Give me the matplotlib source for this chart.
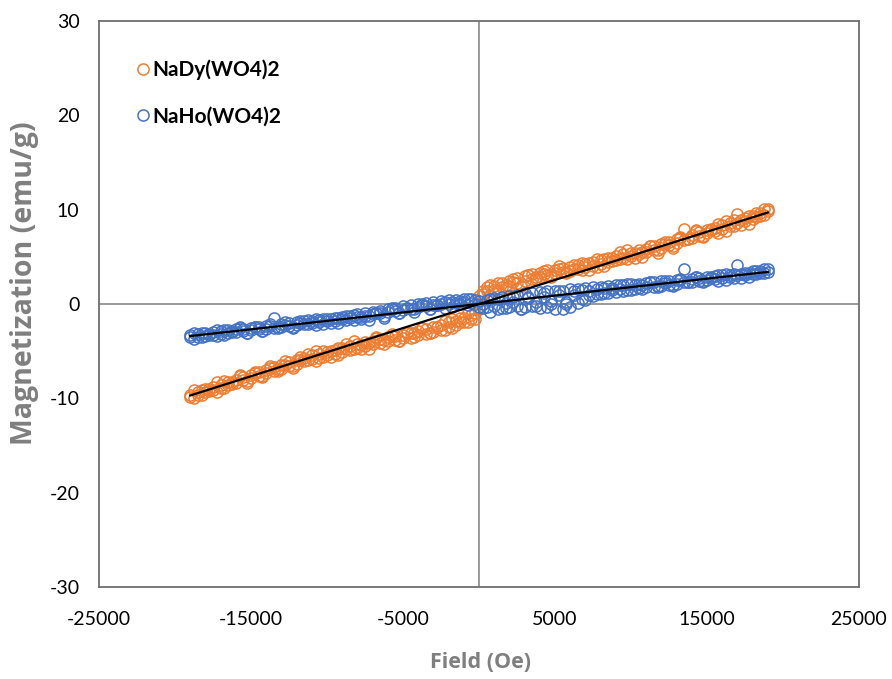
import matplotlib
matplotlib.use("Agg")
import matplotlib.pyplot as plt

# ---------------- data ----------------
# grid A of field values (Oe)
field_a = [-19000, -18500, -18000, -17500, -17000, -16500, -16000, -15500, -15000, -14500,
           -14000, -13500, -13000, -12500, -12000, -11500, -11000, -10500, -10000, -9500,
           -9000, -8500, -8000, -7500, -7000, -6500, -6000, -5500, -5000, -4500,
           -4000, -3500, -3000, -2500, -2000, -1500, -1000, -500, 0, 500,
           1000, 1500, 2000, 2500, 3000, 3500, 4000, 4500, 5000, 5500,
           6000, 6500, 7000, 7500, 8000, 8500, 9000, 9500, 10000, 10500,
           11000, 11500, 12000, 12500, 13000, 13500, 14000, 14500, 15000, 15500,
           16000, 16500, 17000, 17500, 18000, 18500, 19000]
# grid B of field values (Oe)
field_b = [-18750, -18250, -17750, -17250, -16750, -16250, -15750, -15250, -14750, -14250,
           -13750, -13250, -12750, -12250, -11750, -11250, -10750, -10250, -9750, -9250,
           -8750, -8250, -7750, -7250, -6750, -6250, -5750, -5250, -4750, -4250,
           -3750, -3250, -2750, -2250, -1750, -1250, -750, -250, 250, 750,
           1250, 1750, 2250, 2750, 3250, 3750, 4250, 4750, 5250, 5750,
           6250, 6750, 7250, 7750, 8250, 8750, 9250, 9750, 10250, 10750,
           11250, 11750, 12250, 12750, 13250, 13750, 14250, 14750, 15250, 15750,
           16250, 16750, 17250, 17750, 18250, 18750]

# NaDy(WO4)2 magnetization (emu/g)
dy_a1 = [-9.85, -9.30, -9.35, -8.80, -8.90, -8.30, -8.35, -7.75, -7.85, -7.25,
         -7.35, -6.70, -6.85, -6.20, -6.35, -5.70, -5.85, -5.30, -5.45, -4.90,
         -5.05, -4.50, -4.65, -4.05, -4.25, -3.75, -3.95, -3.40, -3.65, -3.05,
         -3.30, -2.70, -2.95, -2.25, -2.45, -1.75, -1.90, -1.20, -0.50, 1.75,
         1.45, 2.20, 1.95, 2.75, 2.40, 3.20, 2.85, 3.60, 3.25, 3.85,
         3.55, 4.10, 3.90, 4.45, 4.25, 4.85, 4.70, 5.25, 5.10, 5.70,
         5.50, 6.10, 5.95, 6.60, 6.50, 7.95, 7.35, 7.25, 7.85, 7.75,
         8.35, 8.30, 9.55, 9.10, 9.05, 9.60, 9.90]
dy_a2 = [-9.60, -9.62, -9.05, -9.10, -8.55, -8.60, -8.02, -8.10, -7.50, -7.60,
         -7.00, -7.05, -6.50, -6.55, -5.95, -6.05, -5.45, -5.70, -5.05, -5.25,
         -4.70, -4.85, -4.25, -4.45, -3.90, -4.10, -3.55, -3.85, -3.25, -3.60,
         -2.85, -3.20, -2.40, -2.75, -1.95, -2.20, -1.45, -1.55, 0.80, 1.35,
         1.90, 1.75, 2.45, 2.25, 2.95, 2.70, 3.30, 3.05, 3.65, 3.40,
         3.95, 3.75, 4.25, 4.05, 4.65, 4.50, 5.05, 4.90, 5.45, 5.35,
         5.85, 5.75, 6.35, 6.25, 6.85, 6.75, 7.00, 7.60, 7.50, 8.10,
         8.00, 8.60, 8.55, 8.80, 9.35, 9.30, 10.10]
dy_b1 = [-9.13, -9.63, -8.97, -9.36, -8.21, -8.45, -7.50, -8.19, -7.34, -7.78,
         -6.58, -7.07, -6.42, -6.81, -5.65, -5.90, -4.94, -5.64, -4.98, -5.43,
         -4.22, -4.72, -4.36, -4.75, -3.60, -3.84, -3.19, -3.88, -3.03, -3.47,
         -2.57, -3.06, -2.41, -2.80, -1.64, -1.89, -0.93, -1.63, 1.43, 0.98,
         2.19, 1.69, 2.35, 1.96, 3.11, 2.87, 3.52, 2.83, 3.68, 3.24,
         4.14, 3.65, 4.30, 3.91, 4.77, 4.52, 5.48, 4.78, 5.44, 4.99,
         6.20, 5.70, 6.36, 5.97, 7.12, 6.88, 7.83, 7.14, 7.99, 7.55,
         8.75, 8.26, 8.91, 8.52, 9.68, 9.43]
dy_b2 = [-9.98, -9.08, -9.22, -8.31, -8.91, -8.25, -7.65, -8.34, -7.24, -7.68,
         -6.78, -6.92, -6.02, -6.61, -5.95, -5.35, -6.04, -4.94, -5.58, -4.68,
         -4.82, -3.92, -4.81, -4.15, -3.55, -4.24, -3.44, -3.88, -2.98, -3.12,
         -2.52, -3.11, -2.46, -1.85, -2.54, -1.44, -1.88, -0.98, 1.08, 1.98,
         1.39, 2.04, 2.65, 1.96, 3.06, 2.62, 3.22, 3.08, 3.98, 3.39,
         3.74, 4.35, 3.65, 4.76, 4.02, 4.92, 4.78, 5.68, 4.89, 5.54,
         6.15, 5.45, 6.56, 6.12, 7.02, 6.88, 7.78, 7.19, 7.84, 8.45,
         7.75, 8.86, 8.41, 9.32, 9.18, 10.08]

# NaHo(WO4)2 magnetization (emu/g)
ho_a1 = [-3.55, -3.20, -3.35, -3.00, -3.15, -2.80, -2.95, -2.65, -2.80, -2.45,
         -2.60, -1.50, -2.40, -2.05, -2.25, -1.85, -2.05, -1.70, -1.85, -1.50,
         -1.60, -1.25, -1.35, -1.00, -1.10, -0.75, -0.85, -0.45, -0.60, -0.15,
         -0.35, 0.10, -0.15, 0.30, 0.05, 0.45, 0.20, 0.50, 0.30, 0.45,
         -0.20, 0.75, -0.30, 1.00, -0.35, 1.20, -0.40, 1.35, -0.55, 1.40,
         -0.30, 1.60, 0.45, 1.75, 1.05, 1.95, 1.30, 2.05, 1.50, 2.15,
         1.75, 2.30, 1.95, 2.45, 2.10, 3.70, 2.35, 2.80, 2.55, 2.95,
         2.75, 3.10, 4.10, 3.30, 3.15, 3.55, 3.40]
ho_a2 = [-3.30, -3.45, -3.10, -3.25, -2.90, -3.05, -2.70, -2.90, -2.55, -2.70,
         -2.35, -2.50, -2.15, -2.35, -1.95, -2.15, -1.75, -1.95, -1.55, -1.75,
         -1.35, -1.50, -1.10, -1.25, -0.80, -1.00, -0.50, -0.75, -0.20, -0.50,
         0.05, -0.25, 0.25, -0.05, 0.40, 0.15, 0.50, 0.15, -0.30, -0.35,
         0.60, -0.40, 0.85, -0.25, 1.15, -0.20, 1.30, -0.30, 1.40, -0.50,
         1.55, 0.10, 1.70, 0.80, 1.85, 1.20, 2.00, 1.40, 2.10, 1.65,
         2.25, 1.85, 2.40, 2.05, 2.55, 2.30, 2.70, 2.45, 2.90, 2.65,
         3.05, 2.85, 3.10, 3.05, 3.45, 3.30, 3.75]
ho_b1 = [-3.06, -3.47, -3.13, -3.44, -2.75, -3.01, -2.47, -3.03, -2.49, -2.90,
         -2.16, -2.57, -2.23, -2.54, -1.85, -2.11, -1.57, -2.13, -1.60, -2.01,
         -1.27, -1.68, -1.34, -1.65, -0.96, -1.22, -0.38, -0.94, -0.40, -0.81,
         -0.07, -0.48, -0.14, -0.45, 0.24, -0.02, 0.52, -0.04, 0.04, -0.87,
         0.52, -0.39, 0.20, -0.51, 0.78, 0.17, 1.16, -0.05, 0.94, 0.03,
         1.42, 0.51, 1.35, 1.04, 1.73, 1.47, 2.01, 1.45, 1.98, 1.57,
         2.31, 1.90, 2.24, 1.93, 2.62, 2.36, 2.90, 2.34, 2.88, 2.47,
         3.21, 2.80, 3.14, 2.83, 3.52, 3.26]
ho_b2 = [-3.66, -3.12, -3.28, -2.74, -3.25, -2.86, -2.52, -3.08, -2.44, -2.85,
         -2.31, -2.47, -1.93, -2.44, -2.05, -1.71, -2.27, -1.63, -2.05, -1.51,
         -1.67, -1.13, -1.64, -1.25, -0.91, -1.47, -0.53, -0.94, -0.40, -0.56,
         -0.02, -0.53, -0.14, 0.20, -0.36, 0.28, -0.13, 0.41, -0.46, 0.53,
         -0.58, 0.11, 0.70, -0.51, 0.68, -0.23, 0.76, 0.35, 1.34, 0.23,
         0.92, 1.51, 0.95, 1.59, 1.18, 1.72, 1.56, 2.10, 1.58, 1.97,
         2.31, 1.75, 2.39, 1.98, 2.52, 2.36, 2.90, 2.39, 2.78, 3.12,
         2.56, 3.20, 2.79, 3.33, 3.17, 3.71]

# linear fits (trendlines)
fit_field = [-19000, 19000]
dy_fit = [-9.7, 9.7]
ho_fit = [-3.4, 3.4]

series_names = ["NaDy(WO4)2", "NaHo(WO4)2"]
x_ticks = [-25000, -15000, -5000, 5000, 15000, 25000]
y_ticks = [-30, -20, -10, 0, 10, 20, 30]

# ---------------- styling ----------------
plt.rcParams['font.family'] = ['Lato', 'DejaVu Sans']
ORANGE = "#ED7D31"
BLUE = "#4472C4"
GRAY = "#7f7f7f"

fig = plt.figure(figsize=(8.92, 6.79), dpi=100)
ax = fig.add_axes([99 / 892, 1 - 587 / 679, (859 - 99) / 892, (587 - 21) / 679])

ax.set_xlim(-25000, 25000)
ax.set_ylim(-30, 30)

# zero cross lines
ax.axhline(0, color=GRAY, lw=1.1, zorder=1)
ax.axvline(0, color=GRAY, lw=1.1, zorder=1)

ms = 8.0
mew = 1.1
marker_kw = dict(linestyle='none', marker='o', markersize=ms,
                 markerfacecolor='none', markeredgewidth=mew)
for xs, ys in ((field_a, dy_a1), (field_b, dy_b1), (field_a, dy_a2), (field_b, dy_b2)):
    ax.plot(xs, ys, markeredgecolor=ORANGE, zorder=3, **marker_kw)
for xs, ys in ((field_a, ho_a1), (field_b, ho_b1), (field_a, ho_a2), (field_b, ho_b2)):
    ax.plot(xs, ys, markeredgecolor=BLUE, zorder=4, **marker_kw)

ax.plot(fit_field, dy_fit, color='black', lw=1.6, zorder=5)
ax.plot(fit_field, ho_fit, color='black', lw=1.6, zorder=5)

# legend handles
h1, = ax.plot([], [], markeredgecolor=ORANGE, **marker_kw)
h2, = ax.plot([], [], markeredgecolor=BLUE, **marker_kw)
leg = ax.legend([h1, h2], series_names, loc='upper left',
                bbox_to_anchor=(0.025, 0.965), frameon=False,
                handlelength=0.6, handletextpad=0.15, labelspacing=1.25,
                prop={'weight': 'bold', 'size': 15})

ax.set_xticks(x_ticks)
ax.set_yticks(y_ticks)
ax.set_xticklabels([str(v) for v in x_ticks])
ax.set_yticklabels([str(v) for v in y_ticks])
ax.tick_params(axis='both', length=0, labelsize=14, colors='black')
ax.tick_params(axis='y', pad=14)
ax.tick_params(axis='x', pad=17)

for sp in ax.spines.values():
    sp.set_color("#6e6e6e")
    sp.set_linewidth(1.3)

fig.text(480 / 892, 1 - 663 / 679, "Field (Oe)", ha='center', va='center',
         fontsize=15.5, fontweight='bold', color=GRAY, family=['Open Sans', 'DejaVu Sans'])
fig.text(25 / 892, 1 - 283 / 679, "Magnetization (emu/g)", ha='center', va='center',
         rotation=90, fontsize=20.5, fontweight='bold', color=GRAY,
         family=['Open Sans', 'DejaVu Sans'])

fig.savefig("out.png", dpi=100)
